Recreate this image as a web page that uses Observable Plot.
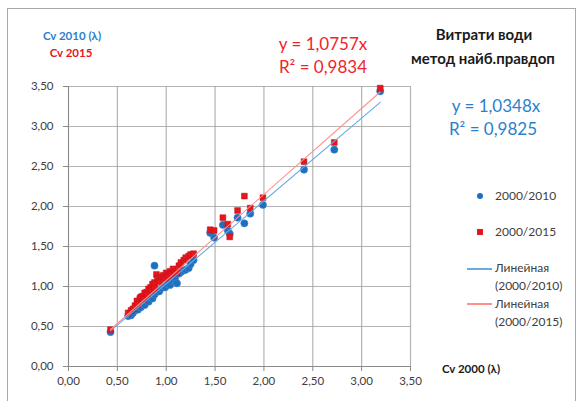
<!DOCTYPE html>
<html><head><meta charset="utf-8">
<script src="https://cdn.jsdelivr.net/npm/d3@7"></script>
<script src="https://cdn.jsdelivr.net/npm/@observablehq/plot@0.6"></script>
<style>
body{margin:0;background:#fff;font-family:Lato,"Open Sans",sans-serif;}
#wrap{position:relative;width:579px;height:401px;overflow:hidden;background:#fff;}
#frame{position:absolute;left:7px;top:8px;width:569px;height:400px;border:1px solid #a8a8a8;box-sizing:border-box;}
.t{position:absolute;white-space:nowrap;line-height:1;}
.c{transform:translate(-50%,-50%);}
.l{transform:translate(0,-50%);}
svg{position:absolute;left:0;top:0;}
</style></head><body><div id="wrap"><div id="frame"></div></div>
<script>
// Cv 2000 (λ) values (x)
const cv2000 = [0.43,0.61,0.64,0.66,0.68,0.70,0.71,0.73,0.74,0.76,0.77,0.78,0.80,0.81,0.82,0.84,0.85,0.86,0.88,0.88,0.90,0.91,0.93,0.95,0.97,0.99,1.00,1.02,1.04,1.05,1.07,1.09,1.11,1.13,1.15,1.18,1.20,1.23,1.25,1.28,1.45,1.49,1.58,1.63,1.65,1.73,1.80,1.86,1.99,2.41,2.72,3.19];
// Cv 2010 (λ) values
const cv2010 = [0.43,0.63,0.64,0.67,0.70,0.72,0.71,0.76,0.74,0.78,0.80,0.77,0.82,0.84,0.81,0.86,0.89,0.85,0.90,1.26,0.93,0.96,0.94,0.98,1.01,0.99,1.03,1.05,1.02,1.07,1.09,1.10,1.04,1.16,1.18,1.20,1.21,1.23,1.28,1.33,1.67,1.61,1.77,1.70,1.66,1.86,1.79,1.91,2.02,2.46,2.71,3.44];
// Cv 2015 values
const cv2015 = [0.46,0.67,0.70,0.72,0.76,0.82,0.78,0.85,0.87,0.88,0.84,0.92,0.93,0.90,0.97,0.99,0.95,1.03,1.05,0.98,1.15,1.10,1.06,1.12,1.14,1.10,1.17,1.13,1.19,1.16,1.22,1.18,1.17,1.26,1.30,1.33,1.36,1.38,1.40,1.41,1.71,1.70,1.86,1.78,1.62,1.95,2.13,1.98,2.11,2.56,2.80,3.48];
const seriesNames = ["2000/2010","2000/2015"];
const trendNames = ["Линейная (2000/2010)","Линейная (2000/2015)"];
const slopes = [1.0348, 1.0757];
const r2 = [0.9825, 0.9834];
const ticks = [0,0.5,1,1.5,2,2.5,3,3.5];

const blue = "#1f6fc1", red = "#e5161d";
const blueLine = "#6aaae0", redLine = "#ff8f8f";

const pts2010 = cv2000.map((x,i)=>({x, y: cv2010[i]}));
const pts2015 = cv2000.map((x,i)=>({x, y: cv2015[i]}));
const xmin = d3.min(cv2000), xmax = d3.max(cv2000);
const trend = slopes.map((s,k)=>[xmin,xmax].map(x=>({x, y: s*x, k})));
const fmt = d => d3.format(".2f")(d).replace(".", ",");

const chart = Plot.plot({
  width: 579, height: 401,
  marginLeft: 68, marginRight: 169, marginTop: 86, marginBottom: 35,
  style: {fontFamily: "Lato, 'Open Sans', sans-serif", fontSize: "11.5px", color: "#404040", background: "transparent"},
  x: {domain: [0,3.5], ticks, tickFormat: fmt, tickSize: 5, tickPadding: 5, label: null},
  y: {domain: [0,3.5], ticks, tickFormat: fmt, tickSize: 5, tickPadding: 10, label: null},
  marks: [
    Plot.gridX(ticks, {stroke: "#a0a0a0", strokeOpacity: 0.8, strokeWidth: 1.2}),
    Plot.gridY(ticks, {stroke: "#a0a0a0", strokeOpacity: 0.8, strokeWidth: 1.2}),
    Plot.ruleX([0], {stroke: "#8a8a8a"}),
    Plot.ruleY([0], {stroke: "#8a8a8a"}),
    Plot.axisX({ticks, tickFormat: fmt, tickSize: 5, tickPadding: 5, stroke: "#8a8a8a", fill: "#404040", label: null}),
    Plot.axisY({ticks, tickFormat: fmt, tickSize: 5, tickPadding: 10, stroke: "#8a8a8a", fill: "#404040", label: null}),
    Plot.dot(pts2010, {x: "x", y: "y", r: 3.6, fill: blue, stroke: "#3d86d0", strokeWidth: 0.6}),
    Plot.dot(pts2015, {x: "x", y: "y", symbol: "square", r: 3.3, fill: red, stroke: "#c41016", strokeWidth: 0.5}),
    Plot.line(trend[0], {x: "x", y: "y", stroke: blueLine, strokeWidth: 1.1}),
    Plot.line(trend[1], {x: "x", y: "y", stroke: redLine, strokeWidth: 1.1})
  ]
});
const wrap = document.getElementById("wrap");
wrap.appendChild(chart);

const f4 = v => v.toFixed(4).replace(".", ",");
function txt(s, x, y, css, cls="c"){
  const d = document.createElement("div");
  d.className = "t " + cls;
  d.textContent = s;
  d.style.left = x + "px"; d.style.top = y + "px";
  Object.assign(d.style, css);
  wrap.appendChild(d);
  return d;
}
txt("Cv 2010 (λ)", 72, 36, {color: "#2a7fcf", fontWeight: "bold", fontSize: "11.5px"});
txt("Cv 2015", 71, 53, {color: red, fontWeight: "bold", fontSize: "11.5px"});
txt("y = " + f4(slopes[1]) + "x", 323, 43, {color: "#f0242a", fontSize: "17px"});
txt("R² = " + f4(r2[1]), 323, 66, {color: "#f0242a", fontSize: "17px"});
txt("Витрати води", 484, 34, {color: "#1a1a1a", fontWeight: "bold", fontSize: "15px"});
txt("метод найб.правдоп", 483, 58, {color: "#1a1a1a", fontWeight: "bold", fontSize: "15px"});
txt("y = " + f4(slopes[0]) + "x", 496, 105, {color: "#2a7fcf", fontSize: "17px"});
txt("R² = " + f4(r2[0]), 493, 128, {color: "#2a7fcf", fontSize: "17px"});
txt("Cv 2000 (λ)", 471, 369, {color: "#1a1a1a", fontWeight: "bold", fontSize: "11.5px"});

// legend
const lg = {color: "#404040", fontSize: "12px"};
const dot = document.createElement("div");
Object.assign(dot.style, {position:"absolute", left:"477px", top:"193px", width:"6px", height:"6px", borderRadius:"50%", background: blue});
wrap.appendChild(dot);
const sq = document.createElement("div");
Object.assign(sq.style, {position:"absolute", left:"477px", top:"229px", width:"6px", height:"6px", background: red});
wrap.appendChild(sq);
txt(seriesNames[0], 495, 196, lg, "l");
txt(seriesNames[1], 495, 232, lg, "l");
const ln1 = document.createElement("div");
Object.assign(ln1.style, {position:"absolute", left:"467px", top:"268px", width:"25px", height:"1.5px", background: blueLine});
wrap.appendChild(ln1);
const ln2 = document.createElement("div");
Object.assign(ln2.style, {position:"absolute", left:"467px", top:"303px", width:"25px", height:"1.5px", background: redLine});
wrap.appendChild(ln2);
const [tn1a, tn1b] = [trendNames[0].split(" ")[0], trendNames[0].split(" ")[1]];
const [tn2a, tn2b] = [trendNames[1].split(" ")[0], trendNames[1].split(" ")[1]];
txt(tn1a, 495, 268, lg, "l");
txt(tn1b, 495, 286, lg, "l");
txt(tn2a, 495, 304, lg, "l");
txt(tn2b, 495, 322, lg, "l");
</script></body></html>
